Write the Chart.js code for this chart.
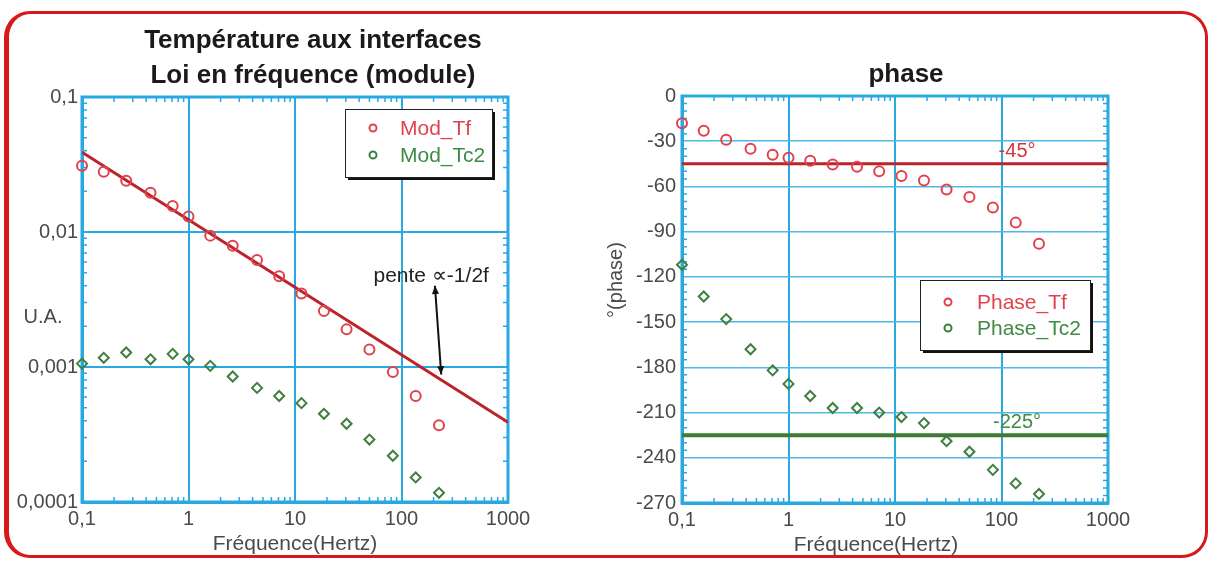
<!DOCTYPE html>
<html lang="fr">
<head>
<meta charset="utf-8">
<title>Température aux interfaces</title>
<script src="https://cdn.jsdelivr.net/npm/chart.js@4.4.1/dist/chart.umd.min.js"></script>
<style>
  html, body { margin: 0; padding: 0; background: #fff; }
  #wrap { position: relative; width: 1212px; height: 561px; overflow: hidden; }
  #frame {
    position: absolute; left: 4px; top: 11px; width: 1196px; height: 541px;
    border: 3px solid #d7191c; border-left-width: 5px; border-radius: 26px;
    background: #fff;
  }
  #left { position: absolute; left: 0; top: 0; }
  #right { position: absolute; left: 600px; top: 0; }
</style>
</head>
<body>
<div id="wrap">
  <div id="frame"></div>
  <canvas id="left" width="626" height="561"></canvas>
  <canvas id="right" width="612" height="561"></canvas>
</div>
<script>
const freqHz = [0.1, 0.16, 0.26, 0.44, 0.71, 1.0, 1.6, 2.6, 4.4, 7.1, 11.5, 18.7, 30.5, 50, 83, 136, 225];
const modTf = [0.031, 0.028, 0.024, 0.0195, 0.0156, 0.013, 0.0094, 0.0079, 0.0062, 0.0047, 0.0035,
  0.0026, 0.0019, 0.00135, 0.00092, 0.00061, 0.00037];
const modTc2 = [0.00106, 0.00117, 0.00128, 0.00114, 0.00125, 0.00114, 0.00102, 0.00085, 0.0007, 0.00061,
  0.00054, 0.00045, 0.00038, 0.00029, 0.00022, 0.000152, 0.000117];
const phaseTf = [-18, -23, -29, -35, -39, -41, -43, -45.5, -47, -50, -53, -56, -62, -67, -74, -84, -98];
const phaseTc2 = [-112, -133, -148, -168, -182, -191, -199, -207, -207, -210, -213, -217, -229, -236,
  -248, -257, -264];

// droite de pente -1/2 et phases de référence
const slopeFreq = [0.1, 1000];
const slopeMod = [0.039, 0.00039];
const refFreq = [0.1, 1000];
const refPhaseTf = -45;
const refPhaseTc2 = -225;

// graduations
const freqTicks = [0.1, 1, 10, 100, 1000];
const freqTickLabels = ['0,1', '1', '10', '100', '1000'];
const modTicks = [0.0001, 0.001, 0.01, 0.1];
const modTickLabels = ['0,0001', '0,001', '0,01', '0,1'];
const phaseTicks = [0, -30, -60, -90, -120, -150, -180, -210, -240, -270];
const phaseTickLabels = ['0', '-30', '-60', '-90', '-120', '-150', '-180', '-210', '-240', '-270'];

const FONT = '"Liberation Sans", Arial, sans-serif';
const BLUE = '#29a9e1';
const TXT = '#4a4a4a';
const RED_PT = '#e2414c';
const RED_LINE = '#bb242b';
const GREEN_PT = '#3f7f3f';
const GREEN_LINE = '#3e7b35';

function pts(xs, ys) {
  return xs.map((x, i) => ({ x: x, y: ys[i] }));
}

function logMinors(decades) {
  const out = [];
  decades.slice(0, -1).forEach(d => {
    for (let m = 2; m <= 9; m++) out.push(d * m);
  });
  return out;
}

/**
 * cadre bleu + petites graduations
 */
const frameTicks = {
  id: 'frameTicks',
  beforeDatasetsDraw(chart, args, opts) {
    const { ctx, chartArea: a, scales } = chart;
    ctx.save();
    ctx.strokeStyle = BLUE;
    ctx.lineWidth = 1.5;
    ctx.beginPath();
    opts.xMinor.forEach(v => {
      const px = scales.x.getPixelForValue(v);
      ctx.moveTo(px, a.bottom); ctx.lineTo(px, a.bottom - 5);
      ctx.moveTo(px, a.top); ctx.lineTo(px, a.top + 5);
    });
    opts.yMinor.forEach(v => {
      const py = scales.y.getPixelForValue(v);
      ctx.moveTo(a.left, py); ctx.lineTo(a.left + 5, py);
      ctx.moveTo(a.right, py); ctx.lineTo(a.right - 5, py);
    });
    ctx.stroke();
    ctx.lineWidth = 3;
    ctx.strokeRect(a.left, a.top, a.width, a.height);
    ctx.restore();
  }
};

/**
 * légende encadrée avec ombre
 */
const boxLegend = {
  id: 'boxLegend',
  afterDatasetsDraw(chart, args, opts) {
    const { ctx } = chart;
    const [bx, by, bw, bh] = opts.box;
    ctx.save();
    ctx.fillStyle = '#111';
    ctx.fillRect(bx + 3, by + 3, bw, bh);
    ctx.fillStyle = '#fff';
    ctx.fillRect(bx, by, bw, bh);
    ctx.strokeStyle = '#222';
    ctx.lineWidth = 1;
    ctx.strokeRect(bx + 0.5, by + 0.5, bw, bh);
    const items = chart.data.datasets.filter(ds => ds.type !== 'line');
    items.forEach((ds, i) => {
      const y = opts.rowY[i];
      ctx.strokeStyle = ds.borderColor;
      ctx.lineWidth = 2;
      ctx.beginPath();
      ctx.arc(opts.markerX, y, 3.5, 0, Math.PI * 2);
      ctx.stroke();
      ctx.fillStyle = ds.labelColor;
      ctx.font = '21px ' + FONT;
      ctx.textAlign = 'left';
      ctx.textBaseline = 'middle';
      ctx.fillText(ds.label, opts.textX, y + 1);
    });
    ctx.restore();
  }
};

/**
 * textes et flèches placés en coordonnées de données
 */
const notes = {
  id: 'notes',
  afterDatasetsDraw(chart, args, opts) {
    const { ctx, scales } = chart;
    ctx.save();
    (opts.texts || []).forEach(t => {
      ctx.font = (t.size || 20) + 'px ' + FONT;
      ctx.fillStyle = t.color;
      ctx.textAlign = 'center';
      ctx.textBaseline = t.baseline || 'middle';
      ctx.fillText(t.text, scales.x.getPixelForValue(t.x), scales.y.getPixelForValue(t.y) + (t.dy || 0));
    });
    (opts.arrows || []).forEach(ar => {
      const x1 = scales.x.getPixelForValue(ar.x[0]), y1 = scales.y.getPixelForValue(ar.y[0]);
      const x2 = scales.x.getPixelForValue(ar.x[1]), y2 = scales.y.getPixelForValue(ar.y[1]);
      ctx.strokeStyle = '#111';
      ctx.fillStyle = '#111';
      ctx.lineWidth = 2;
      ctx.beginPath(); ctx.moveTo(x1, y1); ctx.lineTo(x2, y2); ctx.stroke();
      [[x1, y1, x2, y2], [x2, y2, x1, y1]].forEach(([tx, ty, fx, fy]) => {
        const ang = Math.atan2(ty - fy, tx - fx);
        ctx.beginPath();
        ctx.moveTo(tx, ty);
        ctx.lineTo(tx - 9 * Math.cos(ang - 0.4), ty - 9 * Math.sin(ang - 0.4));
        ctx.lineTo(tx - 9 * Math.cos(ang + 0.4), ty - 9 * Math.sin(ang + 0.4));
        ctx.closePath();
        ctx.fill();
      });
    });
    (opts.freeTexts || []).forEach(t => {
      ctx.save();
      ctx.font = (t.size || 20) + 'px ' + FONT;
      ctx.fillStyle = TXT;
      ctx.textAlign = 'center';
      ctx.textBaseline = 'middle';
      ctx.translate(t.px, t.py);
      if (t.rotate) ctx.rotate(-Math.PI / 2);
      ctx.fillText(t.text, 0, 0);
      ctx.restore();
    });
    ctx.restore();
  }
};

function freqAxis(height, showTitle) {
  return {
    type: 'logarithmic',
    min: 0.1,
    max: 1000,
    afterBuildTicks: s => { s.ticks = freqTicks.map(v => ({ value: v })); },
    afterFit: s => { s.height = height; },
    grid: { color: BLUE, lineWidth: 2, drawTicks: false },
    border: { color: BLUE, width: 3 },
    ticks: {
      autoSkip: false, maxRotation: 0, padding: 5, color: TXT,
      font: { family: FONT, size: 20 },
      callback: (v, i) => freqTickLabels[i]
    },
    title: {
      display: showTitle, text: 'Fréquence(Hertz)', color: TXT,
      font: { family: FONT, size: 21 }, padding: { top: 0, bottom: 4 }
    }
  };
}

function padAxis(width) {
  return {
    type: 'linear', position: 'right', display: true,
    grid: { display: false }, border: { display: false },
    ticks: { display: false },
    afterFit: s => { s.width = width; }
  };
}

// module
new Chart(document.getElementById('left'), {
  type: 'scatter',
  data: {
    datasets: [
      {
        label: 'Mod_Tf', data: pts(freqHz, modTf), order: 1, clip: false,
        pointStyle: 'circle', pointRadius: 5, borderWidth: 2,
        borderColor: RED_PT, backgroundColor: 'rgba(0,0,0,0)', labelColor: '#e0434f'
      },
      {
        label: 'Mod_Tc2', data: pts(freqHz, modTc2), order: 1, clip: false,
        pointStyle: 'rectRot', pointRadius: 5, borderWidth: 2,
        borderColor: GREEN_PT, backgroundColor: 'rgba(0,0,0,0)', labelColor: '#3f8a44'
      },
      {
        type: 'line', label: 'pente', data: pts(slopeFreq, slopeMod), order: 2,
        borderColor: RED_LINE, borderWidth: 3, pointRadius: 0
      }
    ]
  },
  options: {
    responsive: false,
    animation: false,
    layout: { padding: 0 },
    scales: {
      x: freqAxis(59, true),
      y: {
        type: 'logarithmic',
        min: 0.0001,
        max: 0.1,
        afterBuildTicks: s => { s.ticks = modTicks.map(v => ({ value: v })); },
        afterFit: s => { s.width = 82; },
        grid: { color: BLUE, lineWidth: 2, drawTicks: false },
        border: { color: BLUE, width: 3 },
        ticks: {
          autoSkip: false, padding: 4, color: TXT,
          font: { family: FONT, size: 20 },
          callback: (v, i) => modTickLabels[i]
        }
      },
      pad: padAxis(118)
    },
    plugins: {
      legend: { display: false },
      tooltip: { enabled: false },
      title: {
        display: true,
        text: ['Température aux interfaces', 'Loi en fréquence (module)'],
        color: '#1a1a1a',
        font: { family: FONT, size: 26, weight: 'bold', lineHeight: 1.35 },
        padding: { top: 23.5, bottom: 3.3 }
      },
      frameTicks: { xMinor: logMinors(freqTicks), yMinor: logMinors(modTicks) },
      boxLegend: { box: [345, 109, 147, 68], markerX: 373, textX: 400, rowY: [128, 155] },
      notes: {
        texts: [{ x: 190, y: 0.0047, text: 'pente \u221d-1/2f', color: '#222', size: 21 }],
        arrows: [{ x: [206, 236], y: [0.0040, 0.00088] }],
        freeTexts: [{ text: 'U.A.', px: 43, py: 317 }]
      }
    }
  },
  plugins: [frameTicks, boxLegend, notes]
});

// phase
const phaseMinors = [];
for (let p = 0; p >= -270; p -= 5) if (p % 30 !== 0) phaseMinors.push(p);

new Chart(document.getElementById('right'), {
  type: 'scatter',
  data: {
    datasets: [
      {
        label: 'Phase_Tf', data: pts(freqHz, phaseTf), order: 1, clip: false,
        pointStyle: 'circle', pointRadius: 5, borderWidth: 2,
        borderColor: RED_PT, backgroundColor: 'rgba(0,0,0,0)', labelColor: '#e0434f'
      },
      {
        label: 'Phase_Tc2', data: pts(freqHz, phaseTc2), order: 1, clip: false,
        pointStyle: 'rectRot', pointRadius: 5, borderWidth: 2,
        borderColor: GREEN_PT, backgroundColor: 'rgba(0,0,0,0)', labelColor: '#3f8a44'
      },
      {
        type: 'line', label: '-45°', data: pts(refFreq, [refPhaseTf, refPhaseTf]), order: 2,
        borderColor: RED_LINE, borderWidth: 3, pointRadius: 0
      },
      {
        type: 'line', label: '-225°', data: pts(refFreq, [refPhaseTc2, refPhaseTc2]), order: 2,
        borderColor: GREEN_LINE, borderWidth: 4, pointRadius: 0
      }
    ]
  },
  options: {
    responsive: false,
    animation: false,
    layout: { padding: 0 },
    scales: {
      x: freqAxis(58, false),
      y: {
        type: 'linear',
        min: -270,
        max: 0,
        afterBuildTicks: s => { s.ticks = phaseTicks.map(v => ({ value: v })); },
        afterFit: s => { s.width = 82; },
        grid: { color: '#4fb8e6', lineWidth: 1.5, drawTicks: false },
        border: { color: BLUE, width: 3 },
        ticks: {
          autoSkip: false, padding: 6, color: TXT,
          font: { family: FONT, size: 20 },
          callback: (v, i) => phaseTickLabels[i]
        }
      },
      pad: padAxis(104)
    },
    plugins: {
      legend: { display: false },
      tooltip: { enabled: false },
      title: {
        display: true,
        text: 'phase',
        color: '#1a1a1a',
        font: { family: FONT, size: 26, weight: 'bold', lineHeight: 1.35 },
        padding: { top: 57.5, bottom: 3.4 }
      },
      frameTicks: { xMinor: logMinors(freqTicks), yMinor: phaseMinors },
      boxLegend: { box: [320, 280, 170, 70], markerX: 348, textX: 377, rowY: [302, 328] },
      notes: {
        texts: [
          { x: 140, y: refPhaseTf, dy: -2, baseline: 'bottom', text: '-45°', color: '#d8343c' },
          { x: 140, y: refPhaseTc2, dy: -3, baseline: 'bottom', text: '-225°', color: '#3f8a44' }
        ],
        freeTexts: [
          { text: '°(phase)', px: 16, py: 280, rotate: true },
          { text: 'Fréquence(Hertz)', px: 276, py: 545, size: 21 }
        ]
      }
    }
  },
  plugins: [frameTicks, boxLegend, notes]
});
</script>
</body>
</html>
